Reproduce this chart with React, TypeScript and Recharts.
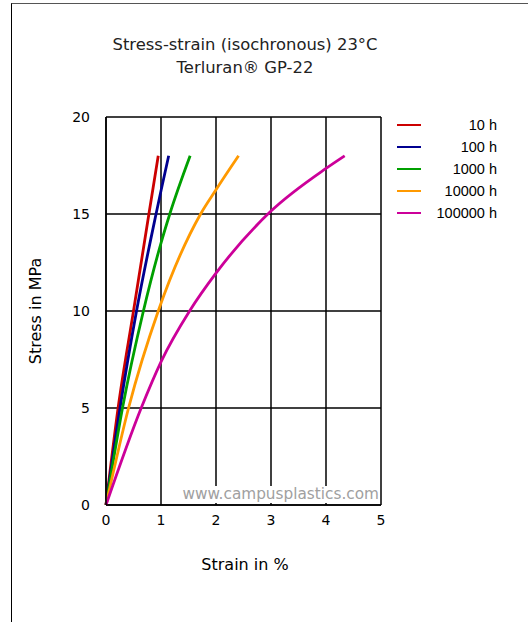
import { LineChart, Line, XAxis, YAxis, CartesianGrid } from "recharts";

const xTicks = [0, 1, 2, 3, 4, 5];
const yTicks = [0, 5, 10, 15, 20];

// strain in % / stress in MPa
const curve10h = [
  { x: 0, y: 0 },
  { x: 0.22, y: 5 },
  { x: 0.5, y: 10 },
  { x: 0.78, y: 15 },
  { x: 0.95, y: 18 },
];
const curve100h = [
  { x: 0, y: 0 },
  { x: 0.255, y: 5 },
  { x: 0.555, y: 10 },
  { x: 0.91, y: 15 },
  { x: 1.0, y: 16.2 },
  { x: 1.14, y: 18 },
];
const curve1000h = [
  { x: 0, y: 0 },
  { x: 0.3, y: 5 },
  { x: 0.68, y: 10 },
  { x: 1.0, y: 13.5 },
  { x: 1.16, y: 15 },
  { x: 1.53, y: 18 },
];
const curve10000h = [
  { x: 0, y: 0 },
  { x: 0.41, y: 5 },
  { x: 0.95, y: 10 },
  { x: 1.72, y: 15 },
  { x: 2.0, y: 16.25 },
  { x: 2.41, y: 18 },
];
const curve100000h = [
  { x: 0, y: 0 },
  { x: 0.64, y: 5 },
  { x: 1.0, y: 7.38 },
  { x: 1.52, y: 10 },
  { x: 2.0, y: 11.95 },
  { x: 3.0, y: 15.15 },
  { x: 4.0, y: 17.35 },
  { x: 4.34, y: 18 },
];

const series = [
  { name: "10 h", color: "#cc0000", data: curve10h },
  { name: "100 h", color: "#000090", data: curve100h },
  { name: "1000 h", color: "#00a000", data: curve1000h },
  { name: "10000 h", color: "#ff9900", data: curve10000h },
  { name: "100000 h", color: "#cc0099", data: curve100000h },
];

const font = "'DejaVu Sans', Verdana, sans-serif";

function LegendBox() {
  return (
    <div
      style={{
        position: "absolute",
        left: 397,
        top: 114,
        width: 110,
        fontFamily: "'Liberation Sans', Arial, sans-serif",
        fontSize: 14.5,
        color: "#000",
      }}
    >
      {series.map((s) => (
        <div key={s.name} style={{ display: "flex", alignItems: "center", height: 22 }}>
          <div style={{ width: 24, height: 2, background: s.color }} />
          <div style={{ width: 76, textAlign: "right" }}>{s.name}</div>
        </div>
      ))}
    </div>
  );
}

export default function App() {
  return (
    <div style={{ position: "absolute", left: 0, top: 0, width: 528, height: 622, background: "#fff", overflow: "hidden" }}>
      <div
        style={{
          position: "absolute",
          left: 11,
          top: 3,
          width: 600,
          height: 700,
          borderTop: "1px solid #555",
          borderLeft: "1px solid #000",
        }}
      />
      <div
        style={{
          position: "absolute",
          left: 0,
          width: 490,
          top: 33,
          textAlign: "center",
          fontFamily: font,
          fontSize: 16.4,
          lineHeight: "23px",
          color: "#222",
        }}
      >
        <div>Stress-strain (isochronous) 23°C</div>
        <div>Terluran® GP-22</div>
      </div>
      <LineChart
        width={528}
        height={622}
        margin={{ top: 117, right: 147, bottom: 87, left: 66 }}
        style={{ position: "absolute", left: 0, top: 0 }}
      >
        <CartesianGrid stroke="#000" strokeWidth={1.5} horizontalValues={yTicks} verticalValues={xTicks} />
        <XAxis
          type="number"
          dataKey="x"
          domain={[0, 5]}
          ticks={xTicks}
          height={30}
          axisLine={{ stroke: "#000", strokeWidth: 1.5 }}
          tickLine={false}
          tick={{ fill: "#000", fontSize: 14, fontFamily: font }}
          tickMargin={4}
        />
        <YAxis
          type="number"
          dataKey="y"
          domain={[0, 20]}
          ticks={yTicks}
          width={40}
          axisLine={{ stroke: "#000", strokeWidth: 1.5 }}
          tickLine={false}
          tick={{ fill: "#000", fontSize: 14, fontFamily: font }}
          tickMargin={10}
        />
        {series.map((s) => (
          <Line
            key={s.name}
            data={s.data}
            dataKey="y"
            name={s.name}
            type="monotone"
            stroke={s.color}
            strokeWidth={2.8}
            dot={false}
            isAnimationActive={false}
          />
        ))}
      </LineChart>
      <LegendBox />
      <div
        style={{
          position: "absolute",
          left: 180,
          top: 486,
          width: 199,
          height: 17,
          background: "#fff",
          color: "#a0a0a0",
          fontFamily: font,
          fontSize: 15.3,
          lineHeight: "17px",
          textAlign: "right",
          whiteSpace: "nowrap",
        }}
      >
        www.campusplastics.com
      </div>
      <div
        style={{
          position: "absolute",
          left: 35,
          top: 311,
          transform: "translate(-50%, -50%) rotate(-90deg)",
          whiteSpace: "nowrap",
          fontFamily: font,
          fontSize: 16,
          color: "#000",
        }}
      >
        Stress in MPa
      </div>
      <div
        style={{
          position: "absolute",
          left: 0,
          width: 490,
          top: 555,
          textAlign: "center",
          fontFamily: font,
          fontSize: 16,
          color: "#000",
        }}
      >
        Strain in %
      </div>
    </div>
  );
}
